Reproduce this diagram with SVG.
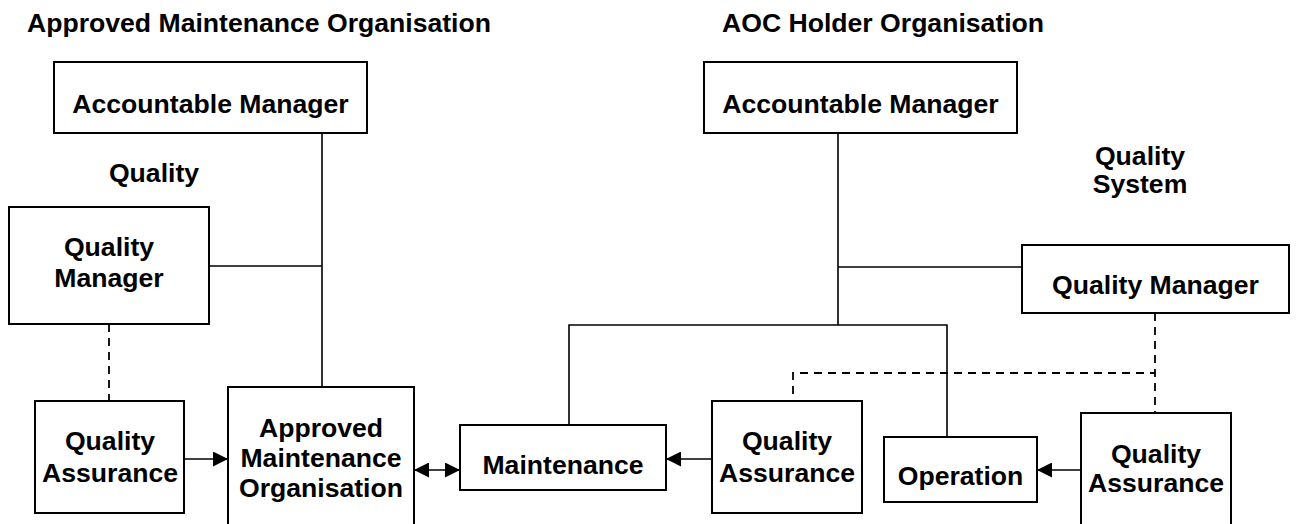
<svg xmlns="http://www.w3.org/2000/svg" width="1297" height="524" viewBox="0 0 1297 524">
<style>
text{font-family:"Liberation Sans",Arial,sans-serif;font-weight:bold;font-size:26.6px;fill:#000}
.c{text-anchor:middle}
.box{fill:#fff;stroke:#000;stroke-width:2}
.ln{fill:none;stroke:#000;stroke-width:1.6}
.ds{fill:none;stroke:#000;stroke-width:1.8;stroke-dasharray:8,6}
</style>
<defs>
<marker id="ah" viewBox="0 0 10 10" refX="10" refY="5" markerWidth="15" markerHeight="15" markerUnits="userSpaceOnUse" orient="auto-start-reverse">
<path d="M0,0 L10,5 L0,10 Z" fill="#000"/>
</marker>
</defs>
<g id="labels">
<text x="27" y="32">Approved Maintenance Organisation</text>
<text x="722" y="32">AOC Holder Organisation</text>
<text class="c" x="154" y="182">Quality</text>
<text class="c" x="1140" y="165">Quality</text>
<text class="c" x="1140" y="193">System</text>
</g>
<g id="connectors">
<path class="ln" d="M322,133 V387 M209,266 H322"/>
<path class="ds" d="M109,324 V401"/>
<path class="ln" d="M184,459 H228" marker-end="url(#ah)"/>
<path class="ln" d="M414,470 H460" marker-start="url(#ah)" marker-end="url(#ah)"/>
<path class="ln" d="M838,133 V325 M838,267 H1022 M569,425 V325 H947 V437"/>
<path class="ds" d="M1155,313 V413 M793,394 V373 H1155"/>
<path class="ln" d="M712,459 H666" marker-end="url(#ah)"/>
<path class="ln" d="M1081,470 H1037" marker-end="url(#ah)"/>
</g>
<g id="amo-am">
<rect class="box" x="54" y="62" width="313" height="71"/>
<text class="c" x="210.5" y="113">Accountable Manager</text>
</g>
<g id="amo-qm">
<rect class="box" x="9" y="207" width="200" height="117"/>
<text class="c" x="109" y="256">Quality</text>
<text class="c" x="109" y="287">Manager</text>
</g>
<g id="amo-qa">
<rect class="box" x="35" y="401" width="149" height="112"/>
<text class="c" x="110" y="450">Quality</text>
<text class="c" x="110" y="482">Assurance</text>
</g>
<g id="amo">
<rect class="box" x="228" y="387" width="186" height="145"/>
<text class="c" x="321" y="437">Approved</text>
<text class="c" x="321" y="467">Maintenance</text>
<text class="c" x="321" y="497">Organisation</text>
</g>
<g id="aoc-am">
<rect class="box" x="704" y="62" width="313" height="71"/>
<text class="c" x="860.5" y="113">Accountable Manager</text>
</g>
<g id="aoc-qm">
<rect class="box" x="1022" y="245" width="267" height="68"/>
<text class="c" x="1155.5" y="294">Quality Manager</text>
</g>
<g id="maintenance">
<rect class="box" x="460" y="425" width="206" height="65"/>
<text class="c" x="563" y="474">Maintenance</text>
</g>
<g id="aoc-qa1">
<rect class="box" x="712" y="401" width="150" height="112"/>
<text class="c" x="787" y="450">Quality</text>
<text class="c" x="787" y="482">Assurance</text>
</g>
<g id="operation">
<rect class="box" x="884" y="437" width="153" height="65"/>
<text class="c" x="960.5" y="485">Operation</text>
</g>
<g id="aoc-qa2">
<rect class="box" x="1081" y="413" width="150" height="119"/>
<text class="c" x="1156" y="463">Quality</text>
<text class="c" x="1156" y="492">Assurance</text>
</g>
</svg>
